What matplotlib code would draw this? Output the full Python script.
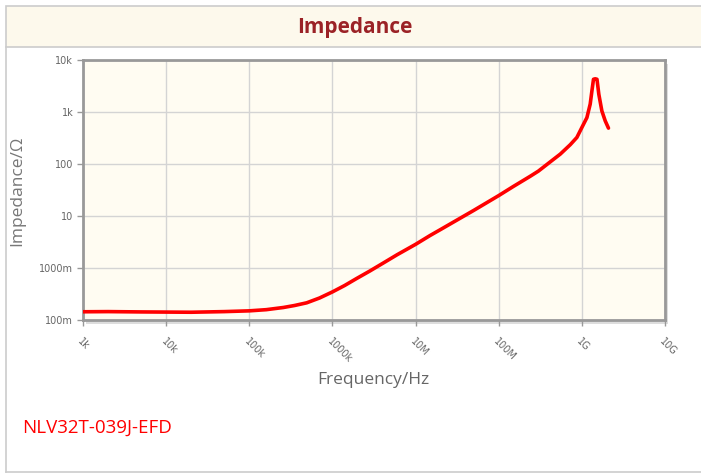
import matplotlib.pyplot as plt
import numpy as np
from matplotlib.patches import Rectangle
from matplotlib.lines import Line2D

# impedance curve (Hz, ohm)
freq = [1e3, 2e3, 5e3, 1e4, 2e4, 5e4, 1e5, 1.6e5, 2.57e5, 3.5e5, 4.9e5, 7e5, 1e6,
        1.4e6, 1.95e6, 2.8e6, 4.1e6, 6e6, 1e7, 1.5e7, 2e7, 5e7, 1e8, 1.5e8,
        2.39e8, 3e8, 4.17e8, 5.5e8, 7.25e8, 8.71e8, 1e9, 1.15e9, 1.26e9, 1.32e9,
        1.38e9, 1.45e9, 1.52e9, 1.6e9, 1.74e9, 1.91e9, 2.09e9]
imped = [0.144, 0.145, 0.143, 0.142, 0.141, 0.145, 0.150, 0.158, 0.174, 0.19, 0.214,
         0.265, 0.347, 0.46, 0.627, 0.87, 1.25, 1.8, 2.85, 4.23, 5.5, 12.8, 24.7, 37.0,
         58.0, 73.0, 110.0, 155.0, 235.0, 324.0, 503.0, 780.0, 1420.0, 2520.0,
         4260.0, 4350.0, 4260.0, 2190.0, 1050.0, 675.0, 490.0]

xticks = [1e3, 1e4, 1e5, 1e6, 1e7, 1e8, 1e9, 1e10]
xlabels = ["1k", "10k", "100k", "1000k", "10M", "100M", "1G", "10G"]
yticks = [0.1, 1, 10, 100, 1e3, 1e4]
ylabels = ["100m", "1000m", "10", "100", "1k", "10k"]

W, H = 701, 475
fig = plt.figure(figsize=(W / 100, H / 100), dpi=100)
fig.patch.set_facecolor("white")

# outer frame (left and bottom only, right side is cut off) and title band
fig.add_artist(Rectangle((6 / W, 1 - 47 / H), 700 / W, 41 / H, transform=fig.transFigure,
                         facecolor="#fdf9ec", edgecolor="#cccccc", lw=1.2, zorder=-2))
fig.add_artist(Line2D([6 / W, 6 / W], [1 - 472 / H, 1 - 47 / H], transform=fig.transFigure,
                      color="#cccccc", lw=1.2, zorder=-2))
fig.add_artist(Line2D([6 / W, 1], [1 - 472 / H, 1 - 472 / H], transform=fig.transFigure,
                      color="#cccccc", lw=1.2, zorder=-2))
fig.text(355 / W, 1 - 27 / H, "Impedance", ha="center", va="center", fontsize=15,
         fontweight="bold", color="#9b2226", family="Open Sans")

# shadow behind plot area
fig.add_artist(Rectangle((86 / W, 1 - 324 / H), 582 / W, 260 / H, transform=fig.transFigure,
                         facecolor="#dddddd", edgecolor="none", zorder=-1))
ax = fig.add_axes([83 / W, 1 - 320 / H, 582 / W, 260 / H])
ax.set_facecolor("#fffcf2")
ax.set_xscale("log")
ax.set_yscale("log")
ax.set_xlim(1e3, 1e10)
ax.set_ylim(0.1, 1e4)

ax.plot(freq, imped, color="#ff0000", lw=2.6, solid_capstyle="round",
        solid_joinstyle="round", zorder=3)

ax.set_xticks(xticks)
ax.set_xticklabels(xlabels, rotation=-45, ha="left", va="top", fontsize=7,
                   color="#666666", rotation_mode="anchor")
ax.set_yticks(yticks)
ax.set_yticklabels(ylabels, fontsize=7, color="#666666")
ax.minorticks_off()
ax.tick_params(axis="both", length=4, color="#999999", width=1, pad=3)
ax.tick_params(axis="x", pad=8)
ax.grid(True, color="#d4d4d4", lw=1)
ax.set_axisbelow(True)
for s in ax.spines.values():
    s.set_color("#999999")
    s.set_linewidth(2)

fig.text(17 / W, 1 - 191 / H, "Impedance/\u03a9", rotation=90, ha="center", va="center",
         fontsize=12.5, color="#777777", family="Open Sans")
fig.text(373 / W, 1 - 380 / H, "Frequency/Hz", ha="center", va="center",
         fontsize=12.5, color="#666666", family="Open Sans")
fig.text(22 / W, 1 - 428 / H, "NLV32T-039J-EFD", ha="left", va="center",
         fontsize=13.5, color="#ff0000", family="Open Sans")

fig.savefig("out.png", dpi=100)
